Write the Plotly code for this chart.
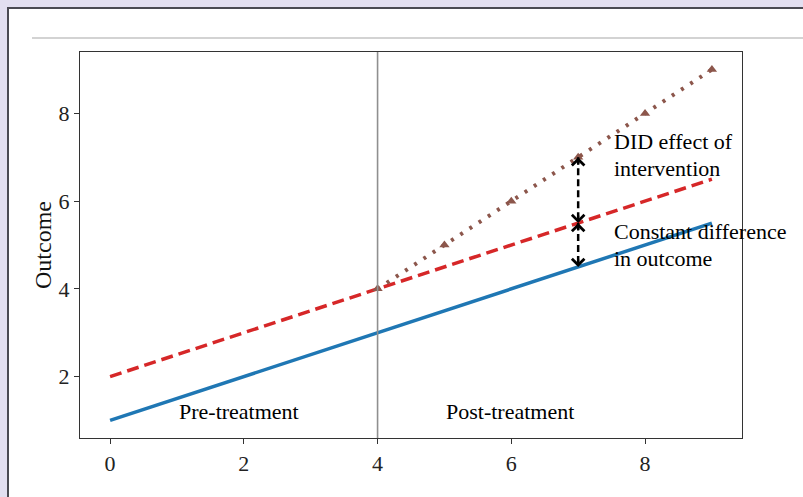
import plotly.graph_objects as go

# Data
x_all = [0, 1, 2, 3, 4, 5, 6, 7, 8, 9]
control = [1.0, 1.5, 2.0, 2.5, 3.0, 3.5, 4.0, 4.5, 5.0, 5.5]
counterfactual = [2.0, 2.5, 3.0, 3.5, 4.0, 4.5, 5.0, 5.5, 6.0, 6.5]
x_post = [4, 5, 6, 7, 8, 9]
treated_post = [4, 5, 6, 7, 8, 9]
treatment_time = 4
arrow_x = 7
did_arrow = [7.0, 5.5]
const_arrow = [5.5, 4.5]
labels = [
    (7.5, 7.05, ["DID effect of", "intervention"]),
    (7.5, 5.0, ["Constant difference", "in outcome"]),
]
phase_labels = [
    (1.0, 1.0, "Pre-treatment"),
    (5.0, 1.0, "Post-treatment"),
]
x_ticks = [0, 2, 4, 6, 8]
y_ticks = [2, 4, 6, 8]

FONT = "Liberation Serif, Times New Roman, serif"
W, H = 803, 497
L, R, T, B = 80, 742, 52, 438


def px_x(p):
    return (p - L) / (R - L)


def px_y(p):
    return (B - p) / (B - T)


fig = go.Figure()

fig.add_trace(go.Scatter(x=x_all, y=control, mode="lines",
                         line=dict(color="#1f77b4", width=3.5), showlegend=False))
fig.add_trace(go.Scatter(x=x_all, y=counterfactual, mode="lines",
                         line=dict(color="#d62728", width=3.5, dash="12px,6px"), showlegend=False))
fig.add_trace(go.Scatter(x=x_post, y=treated_post, mode="lines+markers",
                         line=dict(color="#8c564b", width=4, dash="3px,8px"),
                         marker=dict(symbol="triangle-up", size=9, color="#8c564b"),
                         showlegend=False))

# dashed arrow shafts with open heads at both ends
for seg in (did_arrow, const_arrow):
    fig.add_trace(go.Scatter(x=[arrow_x, arrow_x], y=seg, mode="lines",
                             line=dict(color="black", width=2.5, dash="7px,4px"),
                             showlegend=False))
    for tip, other in ((seg[0], seg[1]), (seg[1], seg[0])):
        direction = 1 if other < tip else -1
        fig.add_annotation(x=arrow_x, y=tip, ax=0, ay=direction * 9,
                           axref="pixel", ayref="pixel",
                           showarrow=True, arrowhead=4, arrowsize=1.1,
                           arrowwidth=2.2, arrowcolor="black", text="")

for lx, ly, lines in labels:
    n = len(lines)
    for i, line in enumerate(lines):
        shift = ((n - 1) / 2 - i) * 26.5
        fig.add_annotation(x=lx, y=ly, text=line, showarrow=False, xanchor="left",
                           yanchor="middle", yshift=shift, align="left",
                           font=dict(family=FONT, size=22, color="black"))
for lx, ly, txt in phase_labels:
    fig.add_annotation(x=lx, y=ly, text=txt, showarrow=False, xanchor="left",
                       yanchor="bottom", yshift=-6, align="left",
                       font=dict(family=FONT, size=22, color="black"))

# page decoration: card, rule, vertical treatment line
fig.add_shape(type="rect", xref="paper", yref="paper",
              x0=px_x(8), x1=px_x(W + 20), y0=px_y(W), y1=px_y(8),
              fillcolor="white", line=dict(color="#4a4a52", width=2), layer="below")
fig.add_shape(type="line", xref="paper", yref="paper",
              x0=px_x(32), x1=px_x(W + 5), y0=px_y(38), y1=px_y(38),
              line=dict(color="#c4c4c4", width=1.5), layer="below")
fig.add_vline(x=treatment_time, line=dict(color="#8f8f8f", width=1.6))

axis_common = dict(showline=True, linecolor="#333", linewidth=1.2, mirror=True,
                   ticks="outside", ticklen=5, tickcolor="#333", showgrid=False,
                   zeroline=False, tickfont=dict(family=FONT, size=22, color="#222"))
fig.update_xaxes(range=[-0.45, 9.45], tickvals=x_ticks, **axis_common)
fig.update_yaxes(range=[0.6, 9.4], tickvals=y_ticks,
                 title=dict(text="Outcome", font=dict(family=FONT, size=24, color="#111"), standoff=0),
                 **axis_common)

fig.update_layout(width=W, height=H,
                  margin=dict(l=L, r=W - R, t=T, b=H - B, autoexpand=False),
                  paper_bgcolor="#e2dff0", plot_bgcolor="rgba(0,0,0,0)")

fig.write_html("out.html", config={"displayModeBar": False},
               post_script="document.body.style.margin='0';document.body.style.background='#e2dff0';")
